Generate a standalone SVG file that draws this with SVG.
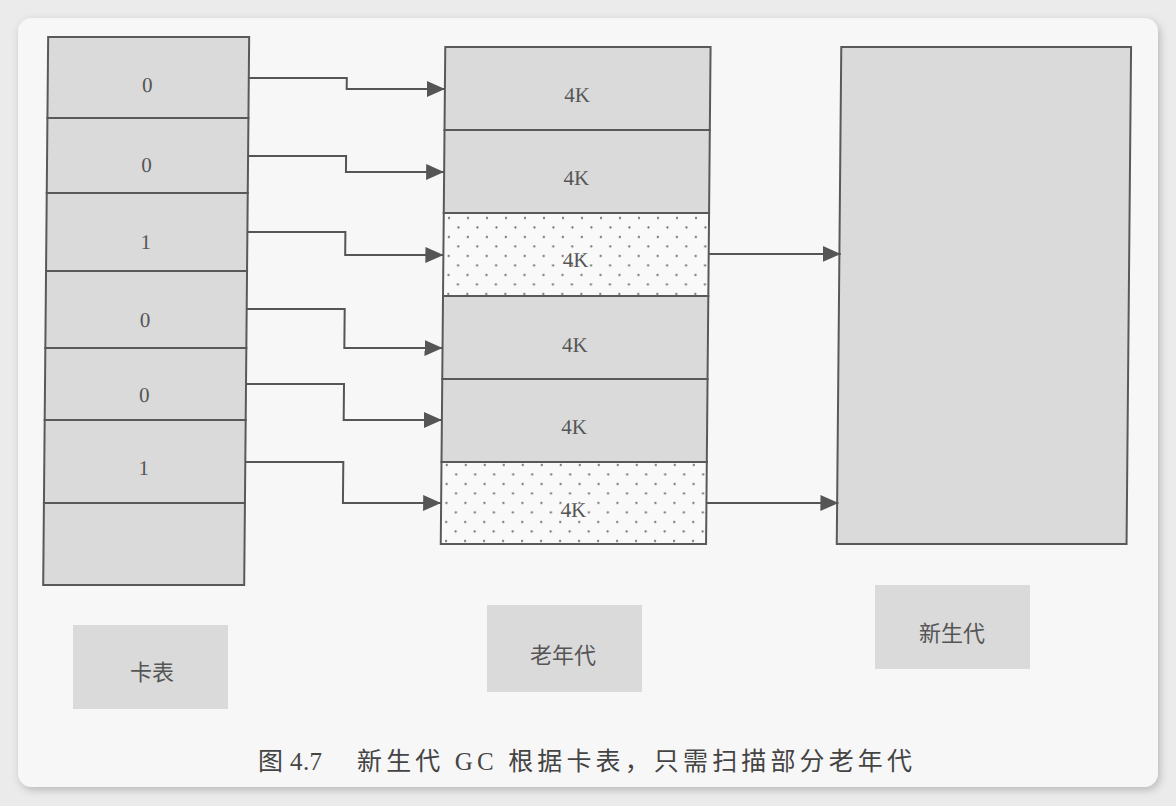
<svg xmlns="http://www.w3.org/2000/svg" width="1176" height="806" viewBox="0 0 1176 806">
  <defs>
    <filter id="shadow" x="-5%" y="-5%" width="110%" height="110%">
      <feDropShadow dx="2" dy="3" stdDeviation="4" flood-color="#000" flood-opacity="0.22"/>
    </filter>
    <pattern id="dots" patternUnits="userSpaceOnUse" x="446" y="213" width="19" height="19">
      <rect width="19" height="19" fill="#f9f9f9"/>
      <circle cx="5" cy="5" r="1.1" fill="#666"/>
      <circle cx="14.5" cy="14.5" r="1.1" fill="#666"/>
    </pattern>
    <marker id="arrow" markerUnits="userSpaceOnUse" markerWidth="18" markerHeight="16" refX="18" refY="8" orient="auto">
      <path d="M0,0 L18,8 L0,16 Z" fill="#555"/>
    </marker>
  </defs>
  <style>
    .cell { fill: #dadada; stroke: #595959; stroke-width: 2; }
    .dotted { fill: url(#dots); stroke: #595959; stroke-width: 2; }
    .num { font-family: "Liberation Serif", "DejaVu Serif", serif; font-size: 21px; fill: #555; text-anchor: middle; }
    .lbl { fill: #dadada; }
    .lbltext { font-family: "Noto Sans CJK SC", "Noto Sans", sans-serif; font-size: 22px; fill: #555; text-anchor: middle; }
    .conn { fill: none; stroke: #555; stroke-width: 2; marker-end: url(#arrow); }
    .caption { font-family: "Liberation Serif", "Noto Sans CJK SC", serif; font-size: 25px; fill: #444; }
  </style>

  <rect x="0" y="0" width="1176" height="806" fill="#ebebeb"/>
  <rect x="18" y="18" width="1140" height="769" rx="14" ry="14" fill="#f7f7f7" filter="url(#shadow)"/>

  <g transform="skewX(-0.52)">
    <g id="card-table">
      <rect class="cell" x="48.5" y="37" width="201" height="81"/>
      <rect class="cell" x="48.5" y="118" width="201" height="75"/>
      <rect class="cell" x="48.5" y="193" width="201" height="78"/>
      <rect class="cell" x="48.5" y="271" width="201" height="77"/>
      <rect class="cell" x="48.5" y="348" width="201" height="72"/>
      <rect class="cell" x="48.5" y="420" width="201" height="83"/>
      <rect class="cell" x="48.5" y="503" width="201" height="82"/>
      <text class="num" x="148" y="92.5">0</text>
      <text class="num" x="148" y="172.5">0</text>
      <text class="num" x="148" y="249.5">1</text>
      <text class="num" x="148" y="327.5">0</text>
      <text class="num" x="148" y="402.5">0</text>
      <text class="num" x="148" y="475.5">1</text>
    </g>

    <g id="old-gen">
      <rect class="cell" x="445.7" y="47" width="265.3" height="83"/>
      <rect class="cell" x="445.7" y="130" width="265.3" height="83"/>
      <rect class="dotted" x="445.7" y="213" width="265.3" height="83"/>
      <rect class="cell" x="445.7" y="296" width="265.3" height="83"/>
      <rect class="cell" x="445.7" y="379" width="265.3" height="83"/>
      <rect class="dotted" x="445.7" y="462" width="265.3" height="82"/>
      <text class="num" x="578" y="102.5">4K</text>
      <text class="num" x="578" y="185.5">4K</text>
      <text class="num" x="578" y="267.5">4K</text>
      <text class="num" x="578" y="352.5">4K</text>
      <text class="num" x="578" y="434.5">4K</text>
      <text class="num" x="578" y="517.5">4K</text>
    </g>

    <g id="young-gen">
      <rect class="cell" x="841.7" y="47" width="289.8" height="497"/>
    </g>

    <g id="connectors">
      <path class="conn" d="M249.5,78 H347.5 V89 H445.7"/>
      <path class="conn" d="M249.5,156 H347.5 V172 H445.7"/>
      <path class="conn" d="M249.5,232 H347.5 V255 H445.7"/>
      <path class="conn" d="M249.5,309 H347.5 V348 H445.7"/>
      <path class="conn" d="M249.5,384 H347.5 V420 H445.7"/>
      <path class="conn" d="M249.5,462 H347.5 V503 H445.7"/>
      <path class="conn" d="M711,254 H843"/>
      <path class="conn" d="M711,503 H843"/>
    </g>
  </g>

  <g id="label-card-table">
    <rect class="lbl" x="73" y="625" width="155" height="84"/>
    <text class="lbltext" x="152" y="680">卡表</text>
  </g>
  <g id="label-old-gen">
    <rect class="lbl" x="487" y="605" width="155" height="87"/>
    <text class="lbltext" x="563" y="663">老年代</text>
  </g>
  <g id="label-young-gen">
    <rect class="lbl" x="875" y="585" width="155" height="84"/>
    <text class="lbltext" x="952" y="641">新生代</text>
  </g>

  <text class="caption" y="770" xml:space="preserve"><tspan x="258" textLength="64" lengthAdjust="spacing">图 4.7</tspan><tspan x="357" textLength="555" lengthAdjust="spacing">新生代 GC 根据卡表，只需扫描部分老年代</tspan></text>
</svg>
